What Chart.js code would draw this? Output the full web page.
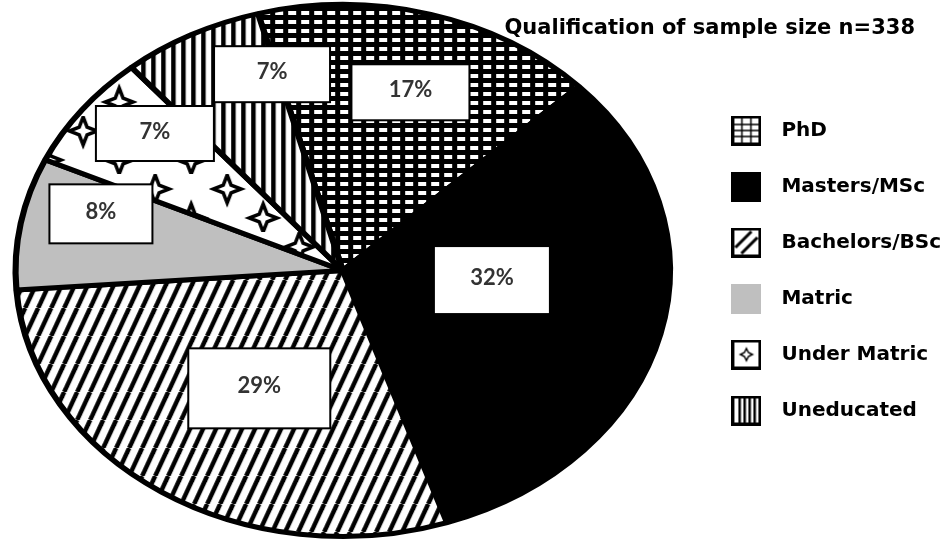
<!DOCTYPE html>
<html>
<head>
<meta charset="utf-8">
<script src="https://cdn.jsdelivr.net/npm/chart.js@4.4.1/dist/chart.umd.min.js"></script>
<style>
  html, body { margin: 0; padding: 0; background: #fff; }
  #wrap { width: 951px; height: 545px; position: relative; }
</style>
</head>
<body>
<div id="wrap"><canvas id="chart"></canvas></div>
<script>
const categories = ["PhD", "Masters/MSc", "Bachelors/BSc", "Matric", "Under Matric", "Uneducated"]
const percentages = [17, 32, 29, 8, 7, 7]
const percentLabels = ["17%", "32%", "29%", "8%", "7%", "7%"]
const chartTitle = "Qualification of sample size n=338"

// the original pie is drawn as an ellipse, wider than it is tall
const stretchX = 1.23
const startAngle = -15

// white label boxes, placed relative to the pie centre in units of radius
const labelSpots = [
  { nx: 0.207, ny: -0.67, w: 118, h: 56 },
  { nx: 0.456, ny: 0.036, w: 116, h: 68 },
  { nx: -0.255, ny: 0.443, w: 142, h: 80 },
  { nx: -0.739, ny: -0.213, w: 103, h: 59 },
  { nx: -0.574, ny: -0.515, w: 118, h: 55 },
  { nx: -0.216, ny: -0.738, w: 116, h: 56 }
]

function tile(w, h, draw) {
  const c = document.createElement("canvas")
  c.width = w
  c.height = h
  const g = c.getContext("2d")
  draw(g, w, h)
  const p = g.createPattern(c, "repeat")
  // undo the horizontal stretch so the hatching keeps its own size
  p.setTransform(new DOMMatrix().scale(1 / stretchX, 1))
  return p
}

function star(g, x, y, s) {
  const t = s * 0.28
  g.beginPath()
  g.moveTo(x, y - s)
  g.lineTo(x + t, y - t)
  g.lineTo(x + s, y)
  g.lineTo(x + t, y + t)
  g.lineTo(x, y + s)
  g.lineTo(x - t, y + t)
  g.lineTo(x - s, y)
  g.lineTo(x - t, y - t)
  g.closePath()
  g.fillStyle = "#fff"
  g.fill()
  g.lineWidth = 3.5
  g.strokeStyle = "#000"
  g.stroke()
}

const fills = [
  tile(13, 9, (g, w, h) => {
    g.fillStyle = "#000"
    g.fillRect(0, 0, w, h)
    g.fillStyle = "#fff"
    g.fillRect(3, 2, 8, 4)
  }),
  "#000",
  tile(13, 28, (g, w, h) => {
    g.fillStyle = "#fff"
    g.fillRect(0, 0, w, h)
    g.strokeStyle = "#000"
    g.lineWidth = 4.5
    for (let k = -1; k <= 1; k++) {
      g.beginPath()
      g.moveTo(k * w, h)
      g.lineTo(k * w + w, 0)
      g.stroke()
    }
  }),
  "#bfbfbf",
  tile(72, 58, (g, w, h) => {
    g.fillStyle = "#fff"
    g.fillRect(0, 0, w, h)
    star(g, 18, 15, 14)
    star(g, 54, 44, 14)
  }),
  tile(10, 10, (g, w, h) => {
    g.fillStyle = "#fff"
    g.fillRect(0, 0, w, h)
    g.fillStyle = "#000"
    g.fillRect(0, 0, 4.5, h)
  })
]

function icon(draw) {
  const c = document.createElement("canvas")
  c.width = 30
  c.height = 30
  const g = c.getContext("2d")
  g.fillStyle = "#fff"
  g.fillRect(0, 0, 30, 30)
  draw(g)
  return c
}

function frame(g) {
  g.strokeStyle = "#000"
  g.lineWidth = 3
  g.strokeRect(1.5, 1.5, 27, 27)
}

const legendIcons = [
  icon(g => {
    g.strokeStyle = "#000"
    g.lineWidth = 1.5
    g.beginPath()
    ;[10.5, 19.5].forEach(x => { g.moveTo(x, 2); g.lineTo(x, 28) })
    ;[9, 15, 21].forEach(y => { g.moveTo(2, y); g.lineTo(28, y) })
    g.stroke()
    frame(g)
  }),
  icon(g => {
    g.fillStyle = "#000"
    g.fillRect(0, 0, 30, 30)
  }),
  icon(g => {
    g.strokeStyle = "#000"
    g.lineWidth = 3
    g.beginPath()
    g.moveTo(4, 20); g.lineTo(20, 4)
    g.moveTo(10, 26); g.lineTo(26, 10)
    g.stroke()
    frame(g)
  }),
  icon(g => {
    g.fillStyle = "#bfbfbf"
    g.fillRect(0, 0, 30, 30)
  }),
  icon(g => {
    frame(g)
    g.lineWidth = 1.5
    g.beginPath()
    g.moveTo(15, 9); g.lineTo(17, 13); g.lineTo(21, 15); g.lineTo(17, 17)
    g.lineTo(15, 21); g.lineTo(13, 17); g.lineTo(9, 15); g.lineTo(13, 13)
    g.closePath()
    g.stroke()
  }),
  icon(g => {
    g.fillStyle = "#000"
    ;[7, 12, 17, 22].forEach(x => g.fillRect(x, 2, 2.5, 26))
    frame(g)
  })
]

// draws the pie stretched sideways into an ellipse
const stretchPlugin = {
  id: "stretch",
  beforeDatasetsDraw(chart) {
    const arc = chart.getDatasetMeta(0).data[0]
    const ctx = chart.ctx
    ctx.save()
    ctx.translate(arc.x, arc.y)
    ctx.scale(stretchX, 1)
    ctx.translate(-arc.x, -arc.y)
  },
  afterDatasetsDraw(chart) {
    chart.ctx.restore()
  }
}

const boxLabelPlugin = {
  id: "boxLabels",
  afterDraw(chart) {
    const arc = chart.getDatasetMeta(0).data[0]
    const ctx = chart.ctx
    const r = arc.outerRadius
    ctx.save()
    labelSpots.forEach((s, i) => {
      const bx = arc.x + s.nx * r * stretchX
      const by = arc.y + s.ny * r
      ctx.fillStyle = "#fff"
      ctx.fillRect(bx - s.w / 2, by - s.h / 2, s.w, s.h)
      ctx.strokeStyle = "#000"
      ctx.lineWidth = 2
      ctx.strokeRect(bx - s.w / 2, by - s.h / 2, s.w, s.h)
      ctx.fillStyle = "#333"
      ctx.font = "bold 22px Lato"
      ctx.textAlign = "center"
      ctx.textBaseline = "middle"
      ctx.fillText(percentLabels[i], bx, by - 2)
    })
    ctx.restore()
  }
}

const titlePlugin = {
  id: "cornerTitle",
  afterDraw(chart) {
    const ctx = chart.ctx
    ctx.save()
    ctx.font = "bold 21px 'DejaVu Sans'"
    ctx.fillStyle = "#000"
    ctx.textAlign = "right"
    ctx.textBaseline = "middle"
    ctx.fillText(chartTitle, chart.width - 36, 29)
    ctx.restore()
  }
}

new Chart(document.getElementById("chart"), {
  type: "pie",
  data: {
    labels: categories,
    datasets: [{
      data: percentages,
      backgroundColor: fills,
      borderColor: "#000",
      borderWidth: 5
    }]
  },
  options: {
    responsive: true,
    maintainAspectRatio: false,
    animation: false,
    rotation: startAngle,
    layout: { padding: { top: 2, bottom: 6 } },
    plugins: {
      legend: {
        position: "right",
        labels: {
          usePointStyle: true,
          pointStyleWidth: 50,
          padding: 36,
          color: "#000",
          font: { family: "DejaVu Sans", weight: "bold", size: 20 },
          generateLabels: () => categories.map((text, i) => ({
            text,
            pointStyle: legendIcons[i],
            fillStyle: "transparent",
            strokeStyle: "transparent",
            lineWidth: 0,
            hidden: false,
            index: i
          }))
        }
      },
      tooltip: { enabled: false }
    }
  },
  plugins: [stretchPlugin, boxLabelPlugin, titlePlugin]
})
</script>
</body>
</html>
